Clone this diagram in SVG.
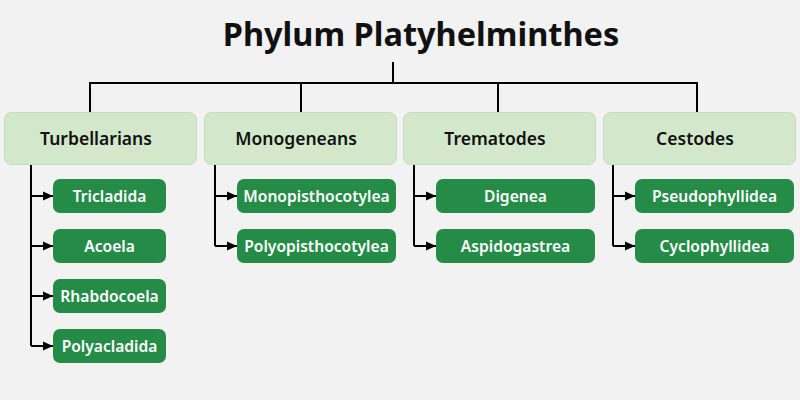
<svg xmlns="http://www.w3.org/2000/svg" width="800" height="400" viewBox="0 0 800 400">
<defs>
<marker id="ah" markerWidth="10" markerHeight="10" refX="10" refY="5" orient="auto" markerUnits="userSpaceOnUse">
<path d="M0,0.5 L10,5 L0,9.5 Z" fill="#000"/>
</marker>
<style>
.title{font-family:"Noto Sans","Open Sans",sans-serif;font-weight:700;font-size:32.5px;fill:#111;text-anchor:middle}
.top rect{fill:#d3e8cb;stroke:#c6dcbe;stroke-width:1}
.top text{font-family:"Noto Sans","Open Sans",sans-serif;font-weight:600;font-size:17.5px;fill:#111;text-anchor:middle}
.sub rect{fill:#258c48}
.sub text{font-family:"Noto Sans","Open Sans",sans-serif;font-weight:600;font-size:15.6px;fill:#fff;text-anchor:middle}
.ln{fill:none;stroke:#000;stroke-width:2}
</style>
</defs>
<rect width="800" height="400" fill="#f2f2f2"/>
<text class="title" x="421" y="46">Phylum Platyhelminthes</text>
<g id="connectors">
<path class="ln" d="M393,62 V83 M90,112 V83 H697 V112 M301,83 V112 M498,83 V112"/>
<path class="ln" d="M31,164 V346"/>
<path class="ln" d="M31,196 H53" marker-end="url(#ah)"/>
<path class="ln" d="M31,246 H53" marker-end="url(#ah)"/>
<path class="ln" d="M31,296 H53" marker-end="url(#ah)"/>
<path class="ln" d="M31,346 H53" marker-end="url(#ah)"/>
<path class="ln" d="M215,164 V246"/>
<path class="ln" d="M215,196 H237" marker-end="url(#ah)"/>
<path class="ln" d="M215,246 H237" marker-end="url(#ah)"/>
<path class="ln" d="M414,164 V246"/>
<path class="ln" d="M414,196 H436" marker-end="url(#ah)"/>
<path class="ln" d="M414,246 H436" marker-end="url(#ah)"/>
<path class="ln" d="M613,164 V246"/>
<path class="ln" d="M613,196 H635" marker-end="url(#ah)"/>
<path class="ln" d="M613,246 H635" marker-end="url(#ah)"/>
</g>
<g id="turbellarians" class="top"><rect x="4.5" y="112.5" width="192" height="52" rx="7"/><text x="96" y="145">Turbellarians</text></g>
<g id="monogeneans" class="top"><rect x="204.5" y="112.5" width="192" height="52" rx="7"/><text x="296" y="145">Monogeneans</text></g>
<g id="trematodes" class="top"><rect x="403.5" y="112.5" width="192" height="52" rx="7"/><text x="495" y="145">Trematodes</text></g>
<g id="cestodes" class="top"><rect x="603.5" y="112.5" width="192" height="52" rx="7"/><text x="695" y="145">Cestodes</text></g>
<g id="tricladida" class="sub"><rect x="53" y="179" width="113" height="34" rx="7"/><text x="109.5" y="202">Tricladida</text></g>
<g id="acoela" class="sub"><rect x="53" y="229" width="113" height="34" rx="7"/><text x="109.5" y="252">Acoela</text></g>
<g id="rhabdocoela" class="sub"><rect x="53" y="279" width="113" height="34" rx="7"/><text x="109.5" y="302">Rhabdocoela</text></g>
<g id="polyacladida" class="sub"><rect x="53" y="329" width="113" height="34" rx="7"/><text x="109.5" y="352">Polyacladida</text></g>
<g id="monopisthocotylea" class="sub"><rect x="237" y="179" width="159" height="34" rx="7"/><text x="316.5" y="202">Monopisthocotylea</text></g>
<g id="polyopisthocotylea" class="sub"><rect x="237" y="229" width="159" height="34" rx="7"/><text x="316.5" y="252">Polyopisthocotylea</text></g>
<g id="digenea" class="sub"><rect x="436" y="179" width="159" height="34" rx="7"/><text x="515.5" y="202">Digenea</text></g>
<g id="aspidogastrea" class="sub"><rect x="436" y="229" width="159" height="34" rx="7"/><text x="515.5" y="252">Aspidogastrea</text></g>
<g id="pseudophyllidea" class="sub"><rect x="635" y="179" width="159" height="34" rx="7"/><text x="714.5" y="202">Pseudophyllidea</text></g>
<g id="cyclophyllidea" class="sub"><rect x="635" y="229" width="159" height="34" rx="7"/><text x="714.5" y="252">Cyclophyllidea</text></g>
</svg>
